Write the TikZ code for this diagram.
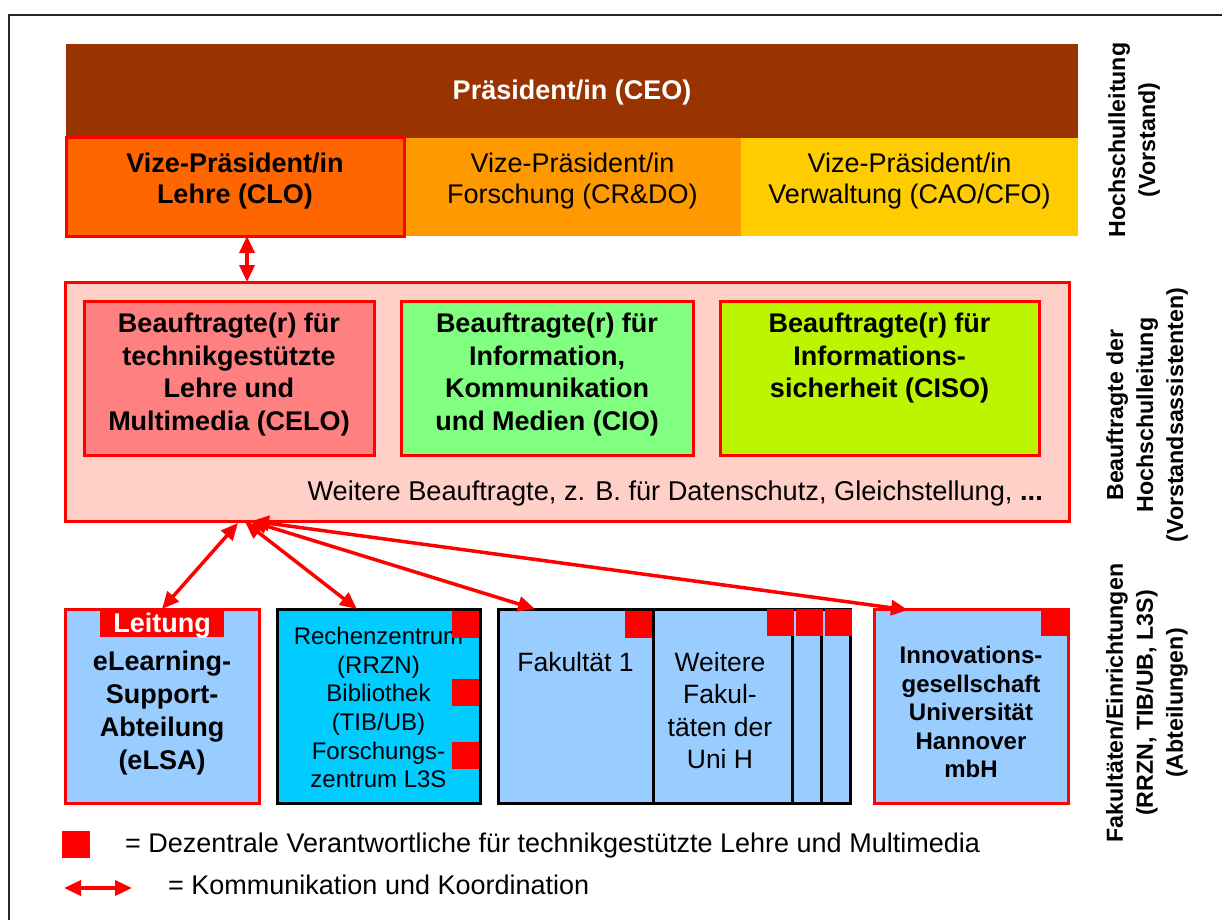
\documentclass[tikz,border=0pt]{standalone}
\usepackage{fontspec}
\setmainfont{Liberation Sans}
\usetikzlibrary{arrows.meta,calc}
\definecolor{ceobrown}{HTML}{993300}
\definecolor{cloorange}{HTML}{FF6600}
\definecolor{vpforange}{HTML}{FF9900}
\definecolor{vpvyellow}{HTML}{FFCC00}
\definecolor{midpink}{HTML}{FFD0C8}
\definecolor{celored}{HTML}{FF8080}
\definecolor{ciogreen}{HTML}{80FF80}
\definecolor{cisolime}{HTML}{BBF500}
\definecolor{unitblue}{HTML}{99CCFF}
\definecolor{rzcyan}{HTML}{00CCFF}
\tikzset{
  plain/.style={inner sep=0, outer sep=0},
  rbox/.style={plain, draw=red, line width=3pt},
  kbox/.style={plain, draw=black, line width=3pt},
  sq/.style={plain, fill=red, minimum width=27pt, minimum height=27pt},
  txtb/.style={inner sep=0, align=center, font=\bfseries\fontsize{27}{32.5}\selectfont},
  txtr/.style={inner sep=0, align=center, font=\fontsize{27}{31}\selectfont},
  sidelab/.style={inner sep=0, align=center, rotate=90, font=\bfseries\fontsize{23.2}{30}\selectfont},
  legtext/.style={inner sep=0, anchor=base west, font=\fontsize{27}{31}\selectfont},
  comm/.style={red, line width=3.5pt, {Triangle[length=17pt,width=15pt]}-{Triangle[length=17pt,width=15pt]}},
}
\begin{document}
\begin{tikzpicture}[x=1pt,y=-1pt]
\useasboundingbox (0,0) rectangle (1222,920);
% frame
\coordinate (fbl) at (9,920);
\coordinate (ftl) at (9,15);
\coordinate (ftr) at (1222,15);
\draw[line width=2pt, black!85] (fbl) -- (ftl) -- (ftr);

% top level
\node[plain, fill=ceobrown, minimum width=1012pt, minimum height=94pt] (ceo) at (572,91) {};
\node[txtb, white] (ceot) at (572,93) {Präsident/in (CEO)};
\node[plain, fill=vpforange, minimum width=337pt, minimum height=98pt] (vpf) at (572.5,187) {};
\node[plain, fill=vpvyellow, minimum width=337pt, minimum height=98pt] (vpv) at (909.5,187) {};
\node[rbox, fill=cloorange, minimum width=338pt, minimum height=98pt] (clo) at (235,187) {};
\node[txtb, font=\bfseries\fontsize{27}{31}\selectfont] (clot) at (235,181) {Vize-Präsident/in\\Lehre (CLO)};
\node[txtr] (vpft) at (572.5,181) {Vize-Präsident/in\\Forschung (CR\&DO)};
\node[txtr] (vpvt) at (909.5,181) {Vize-Präsident/in\\Verwaltung (CAO/CFO)};

% middle level
\node[rbox, fill=midpink, minimum width=1004pt, minimum height=239pt] (mid) at (567,401.5) {};
\node[rbox, fill=celored, minimum width=290pt, minimum height=154pt] (celo) at (229,378) {};
\node[rbox, fill=ciogreen, minimum width=292pt, minimum height=154pt] (cio) at (547,378) {};
\node[rbox, fill=cisolime, minimum width=319pt, minimum height=154pt] (ciso) at (879.5,378) {};
\node[txtb, anchor=north] (celot) at (229,313) {Beauftragte(r) für\\technikgestützte\\Lehre und\\Multimedia (CELO)};
\node[txtb, anchor=north] (ciot) at (547,313) {Beauftragte(r) für\\Information,\\Kommunikation\\und Medien (CIO)};
\node[txtb, anchor=north] (cisot) at (879.5,313) {Beauftragte(r) für\\Informations-\\sicherheit (CISO)};
\node[inner sep=0, anchor=base east, font=\fontsize{27.2}{31}\selectfont] (weit) at (1043,500) {Weitere Beauftragte, z. B. für Datenschutz, Gleichstellung, \textbf{...}};

% bottom level
\node[rbox, fill=unitblue, minimum width=194pt, minimum height=194pt] (elsa) at (162,706) {};
\node[plain, fill=red, minimum width=124pt, minimum height=28pt] (leit) at (162,623) {};
\node[inner sep=0, anchor=base, white, font=\bfseries\fontsize{27}{31}\selectfont] (leitt) at (162,632) {Leitung};
\node[txtb, anchor=north, font=\bfseries\fontsize{27}{33}\selectfont] (elsat) at (162,651) {eLearning-\\Support-\\Abteilung\\(eLSA)};

\node[kbox, fill=rzcyan, minimum width=203pt, minimum height=194pt] (rz) at (378.5,706) {};
\node[inner sep=0, align=center, anchor=north, font=\fontsize{24}{28.6}\selectfont] (rzt) at (378.5,627) {Rechenzentrum\\(RRZN)\\Bibliothek\\(TIB/UB)\\Forschungs-\\zentrum L3S};
\node[sq, anchor=north east] (rzs1) at ($(rz.north east)+(-1.5,1.5)$) {};
\node[sq, anchor=north east] (rzs2) at ($(rz.north east)+(-1.5,70)$) {};
\node[sq, anchor=north east] (rzs3) at ($(rz.north east)+(-1.5,133)$) {};

\node[kbox, fill=unitblue, minimum width=155pt, minimum height=194pt] (fak1) at (575.5,706) {};
\node[inner sep=0, anchor=base, font=\fontsize{26.5}{32}\selectfont] (fak1t) at (575.5,671) {Fakultät 1};
\node[sq, anchor=north east] (fak1s) at ($(fak1.north east)+(-1.5,1.5)$) {};

\node[kbox, fill=unitblue, minimum width=150pt, minimum height=194pt] (fakc) at (775,706) {};
\node[sq, anchor=north east] (fakcs) at ($(fakc.north east)+(1.5,0)$) {};
\node[kbox, fill=unitblue, minimum width=141pt, minimum height=194pt] (fakb) at (750.5,706) {};
\node[sq, anchor=north east] (fakbs) at ($(fakb.north east)+(1.5,0)$) {};
\node[kbox, fill=unitblue, minimum width=139pt, minimum height=194pt] (faka) at (722.5,706) {};
\node[sq, anchor=north east] (fakas) at ($(faka.north east)+(1.5,0)$) {};
\node[inner sep=0, align=center, anchor=north, font=\fontsize{26.5}{32.3}\selectfont] (fakat) at (720,652) {Weitere\\Fakul-\\täten der\\Uni H};

\node[rbox, fill=unitblue, minimum width=194pt, minimum height=194pt] (inno) at (971,706) {};
\node[sq, anchor=north east] (innos) at ($(inno.north east)+(0,0)$) {};
\node[inner sep=0, align=center, anchor=north, font=\bfseries\fontsize{24}{28.5}\selectfont] (innot) at (971,646) {Innovations-\\gesellschaft\\Universität\\Hannover\\mbH};

% connectors
\coordinate (vx) at (247,0);
\draw[comm] (clo.south -| vx) -- (mid.north -| vx);
\coordinate (h1) at (238,523);
\coordinate (h2) at (245,522);
\coordinate (h3) at (250,521);
\coordinate (h4) at (252,521);
\coordinate (t2) at (357,609);
\coordinate (t3) at (535,609);
\coordinate (t4) at (908,610);
\draw[comm] (h1) -- (elsa.north);
\draw[comm] (h2) -- (t2);
\draw[comm] (h3) -- (t3);
\draw[comm] (h4) -- (t4);

% side labels
\node[sidelab] (lab1) at (1134,140) {Hochschulleitung\\(Vorstand)};
\node[sidelab] (lab2) at (1147,415) {Beauftragte der\\Hochschulleitung\\(Vorstandsassistenten)};
\node[sidelab] (lab3) at (1147,703) {Fakultäten/Einrichtungen\\(RRZN, TIB/UB, L3S)\\(Abteilungen)};

% legend
\node[sq, minimum width=28pt] (legsq) at (76,844.5) {};
\node[legtext] (legt1) at (125,852) {= Dezentrale Verantwortliche für technikgestützte Lehre und Multimedia};
\coordinate (la) at (64,888);
\coordinate (lb) at (132,888);
\draw[comm] (la) -- (lb);
\node[legtext] (legt2) at (168,894) {= Kommunikation und Koordination};
\end{tikzpicture}
\end{document}
